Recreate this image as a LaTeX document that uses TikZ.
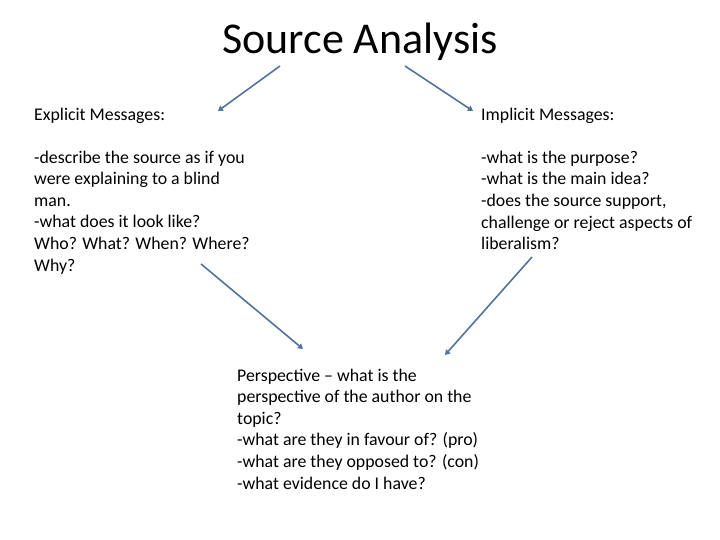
\documentclass[tikz,border=0pt]{standalone}
\usepackage{fontspec}
\setmainfont{Carlito}
\usetikzlibrary{arrows.meta}
\definecolor{arrowblue}{RGB}{84,114,158}
\tikzset{
  body/.style={anchor=base west, align=left, inner sep=0pt, font=\fontsize{17.8}{21.6}\selectfont},
  conn/.style={draw=arrowblue, line width=1.6pt, -{Triangle[length=5pt,width=6pt]}}
}
\begin{document}
\begin{tikzpicture}[x=1pt,y=-1pt]
\useasboundingbox (0,0) rectangle (720,540);
\node[anchor=base, inner sep=0pt, font=\fontsize{44}{50}\selectfont] (title) at (360,54) {Source Analysis};
\node[body] (explicit) at (34,271.2) {Explicit Messages:\\[21.6pt]-describe the source as if you\\were explaining to a blind\\man.\\-what does it look like?\\Who? What? When? Where?\\Why?};
\node[body] (implicit) at (481,249.6) {Implicit Messages:\\[21.6pt]-what is the purpose?\\-what is the main idea?\\-does the source support,\\challenge or reject aspects of\\liberalism?};
\node[body] (persp) at (237,489) {Perspective -- what is the\\perspective of the author on the\\topic?\\-what are they in favour of? (pro)\\-what are they opposed to? (con)\\-what evidence do I have?};
\coordinate (t1) at (280,66);
\coordinate (e1) at (218,111);
\coordinate (t2) at (405,66);
\coordinate (i1) at (473,111);
\coordinate (e2) at (201,264);
\coordinate (p1) at (303,349);
\coordinate (i2) at (532,257);
\coordinate (p2) at (445,355);
\draw[conn] (t1) -- (e1);
\draw[conn] (t2) -- (i1);
\draw[conn] (e2) -- (p1);
\draw[conn] (i2) -- (p2);
\end{tikzpicture}
\end{document}
